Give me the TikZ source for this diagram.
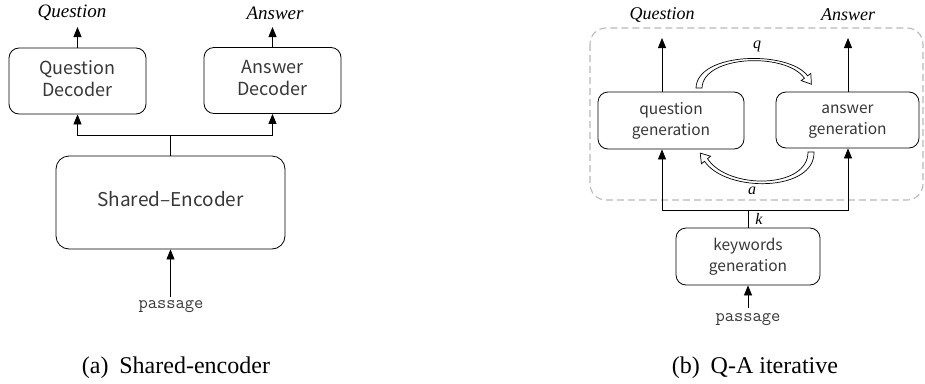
\documentclass[tikz,border=0pt]{standalone}
\usepackage{fontspec}
\setmainfont{Liberation Serif}
\newfontfamily\boxfont{Noto Sans CJK KR}
\usetikzlibrary{arrows.meta}
\definecolor{txtgray}{RGB}{55,55,55}
\definecolor{dashgray}{RGB}{185,185,185}
\begin{document}
\begin{tikzpicture}[x=1pt,y=-1pt,
  line width=0.8pt,
  blk/.style={draw, rounded corners=10pt, align=center, inner sep=0pt, text=txtgray},
  bigtxt/.style={font=\boxfont\fontsize{18}{22}\selectfont},
  smalltxt/.style={font=\boxfont\fontsize{15.5}{21}\selectfont},
  arr/.style={-{Triangle[length=10pt,width=8pt]}},
  lab/.style={font=\itshape\fontsize{19}{22}\selectfont, inner sep=0pt},
  varlab/.style={font=\itshape\fontsize{16}{18}\selectfont, inner sep=0pt},
  psg/.style={font=\ttfamily\fontsize{18}{20}\selectfont, text=txtgray, inner sep=0pt},
  captxt/.style={font=\fontsize{24}{26}\selectfont, inner sep=0pt},
  hollow/.style={draw, fill=white, line width=0.7pt, line join=miter}
]
\useasboundingbox (0,0) rectangle (925,383);

% ---------------- (a) Shared-encoder ----------------
\node[lab] (qlab) at (72,13) {Question};
\node[lab] (alab) at (275,13) {Answer};
\node[blk, bigtxt, minimum width=137pt, minimum height=66pt] (qd) at (77.5,81) {\strut Question\\\strut Decoder};
\node[blk, bigtxt, minimum width=137pt, minimum height=66pt] (ad) at (272.5,80.5) {\strut Answer\\\strut Decoder};
\node[blk, font=\boxfont\fontsize{19}{22}\selectfont, rounded corners=13pt, minimum width=229pt, minimum height=93pt] (se) at (170.5,202.5) {\strut Shared–Encoder};
\node[psg] (p1) at (171,307) {passage};
\node[captxt] (c1) at (176,368) {(a)\hspace{0.45em}Shared-encoder};

\coordinate (qout) at (77.5,27);
\coordinate (aout) at (272.5,27);
\coordinate (sbus) at (170.5,135);
\coordinate (pin1) at (170.5,297);
\draw[arr] (qd.north) -- (qout);
\draw[arr] (ad.north) -- (aout);
\draw (se.north) -- (sbus);
\draw[arr] (sbus) -| (qd.south);
\draw[arr] (sbus) -| (ad.south);
\draw[arr] (pin1) -- (se.south);

% ---------------- (b) Q-A iterative ----------------
\draw[dashgray, line width=1.1pt, dash pattern=on 7pt off 4pt, rounded corners=16pt] (590,28) rectangle (923,200);

\node[lab, font=\itshape\fontsize{18}{22}\selectfont] (qlab2) at (662,15) {Question};
\node[lab, font=\itshape\fontsize{18}{22}\selectfont] (alab2) at (848,15) {Answer};
\node[blk, smalltxt, minimum width=146pt, minimum height=57pt] (qg) at (671,120.5) {\strut question\\\strut generation};
\node[blk, smalltxt, minimum width=143pt, minimum height=56pt] (ag) at (847.5,120) {\strut answer\\\strut generation};
\node[blk, smalltxt, minimum width=144pt, minimum height=57pt] (kg) at (748,256.5) {\strut keywords\\\strut generation};
\node[psg] (p2) at (748,320) {passage};
\node[captxt] (c2) at (755,368) {(b)\hspace{0.45em}Q-A iterative};
\node[varlab] (qv) at (757,46) {q};
\node[varlab] (av) at (752,191) {a};
\node[varlab] (kv) at (759,219) {k};

\coordinate (qgout) at (662,38);
\coordinate (agout) at (848,38);
\coordinate (kbus) at (748,210);
\coordinate (pin2) at (748,308);
\draw[arr] (qg.north -| qgout) -- (qgout);
\draw[arr] (ag.north -| agout) -- (agout);
\draw (kg.north) -- (kbus);
\draw[arr] (kbus) -| (qg.south -| qgout);
\draw[arr] (kbus) -| (ag.south -| agout);
\draw[arr] (pin2) -- (kg.south);

% hollow iteration arrows (q: question -> answer, a: answer -> question)
\draw[hollow] (702,88) -- (696,88)
  .. controls (697,52) and (788,50) .. (807.6,75.8)
  -- (810.8,73.4) -- (811.4,84.2) -- (801.2,80.6) -- (804.4,78.2)
  .. controls (786,52) and (703,55) .. (702,88) -- cycle;

\draw[hollow] (808,152) -- (814,152)
  .. controls (815,192) and (726,193) .. (704.5,161.3)
  -- (701.4,163.8) -- (700.2,153.1) -- (710.6,156.2) -- (707.5,158.7)
  .. controls (728,190) and (808,189) .. (808,152) -- cycle;
\end{tikzpicture}
\end{document}
